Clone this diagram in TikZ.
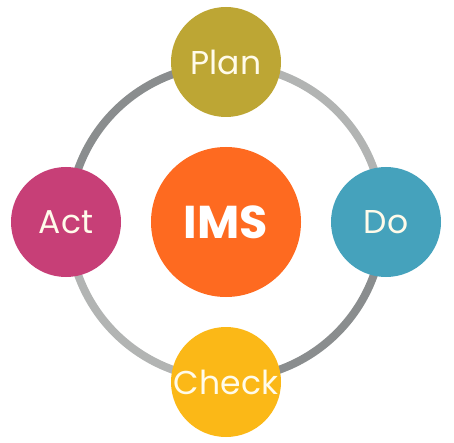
\documentclass[tikz,border=0pt]{standalone}
\usepackage{fontspec}
\setmainfont{Poppins}
\definecolor{planc}{HTML}{BDA634}
\definecolor{doc}{HTML}{45A2BC}
\definecolor{actc}{HTML}{C73F77}
\definecolor{checkc}{HTML}{FBB817}
\definecolor{imsc}{HTML}{FE6A20}
\definecolor{ringdark}{HTML}{8A8D8E}
\definecolor{ringlight}{HTML}{B2B4B3}
\definecolor{txt}{HTML}{FFFBEA}
\begin{document}
\begin{tikzpicture}[x=1pt,y=-1pt,
  phase/.style={circle,minimum size=110pt,inner sep=0pt,text=txt,font=\fontsize{33}{33}\selectfont},
  ring/.style={line width=8pt}]
\useasboundingbox (0,0) rectangle (454,443);
\coordinate (c) at (226,222);
\draw[ring,ringlight] (c) ++(180:157) arc[start angle=180,end angle=90,radius=157];
\draw[ring,ringdark] (c) ++(90:157) arc[start angle=90,end angle=0,radius=157];
\draw[ring,ringlight] (c) ++(0:157) arc[start angle=0,end angle=-90,radius=157];
\draw[ring,ringdark] (c) ++(-90:157) arc[start angle=-90,end angle=-180,radius=157];
\node[phase,fill=planc] (plan) at (226,62) {Plan};
\node[phase,fill=doc] (do) at (386,222) {Do};
\node[phase,fill=actc] (act) at (66,222) {Act};
\node[phase,fill=checkc] (check) at (226,382) {Check};
\node[circle,minimum size=150pt,inner sep=0pt,fill=imsc,text=white,font=\fontsize{46}{46}\selectfont\bfseries] (ims) at (c) {IMS};
\end{tikzpicture}
\end{document}
